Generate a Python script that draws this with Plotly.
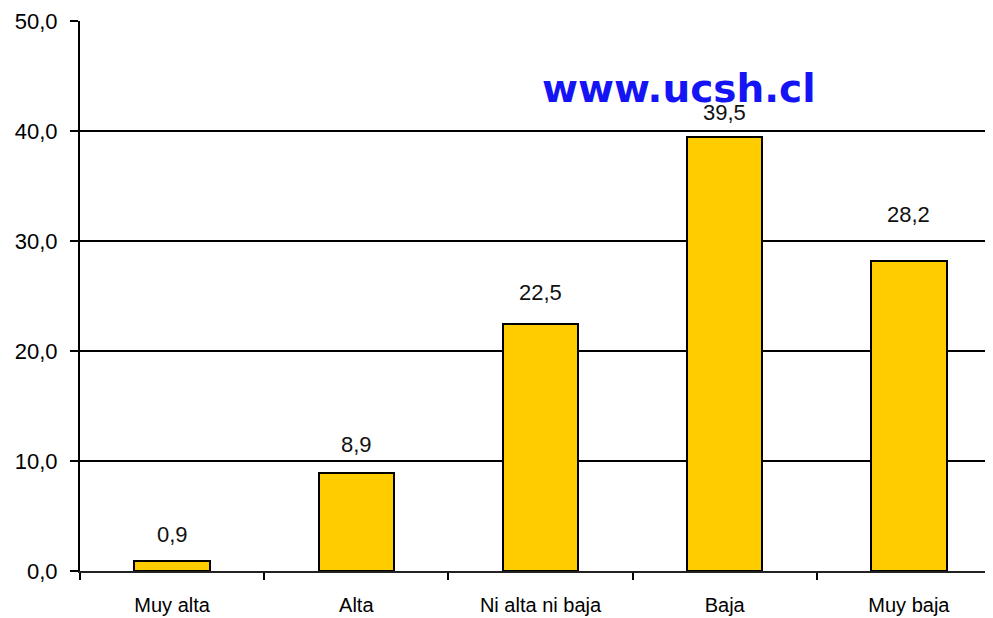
import plotly.graph_objects as go

categories = ["Muy alta", "Alta", "Ni alta ni baja", "Baja", "Muy baja"]
values = [0.9, 8.9, 22.5, 39.5, 28.2]
y_ticks = [0, 10, 20, 30, 40, 50]
watermark = "www.ucsh.cl"

# vertical pixel gap between bar top and its label (style only)
label_gap = [12, 14, 17, 10, 32]

fig = go.Figure()
fig.add_trace(go.Bar(
    x=categories, y=values, width=0.41,
    marker=dict(color="#FFCC00", line=dict(color="black", width=2)),
    hoverinfo="skip",
))

for c, v, g in zip(categories, values, label_gap):
    fig.add_annotation(
        x=c, y=v, xref="x", yref="y", text=f"{v:.1f}".replace(".", ","),
        showarrow=False, yanchor="bottom", xanchor="center", yshift=g,
        font=dict(family="Liberation Sans, Arial", size=22, color="#111"),
    )

fig.add_annotation(
    x=0.65, y=0.878, xref="paper", yref="paper", text=f"<b>{watermark}</b>",
    showarrow=False, xanchor="center", yanchor="middle",
    font=dict(family="DejaVu Sans", size=39, color="#1414F5"),
)

fig.update_layout(
    width=993, height=618,
    margin=dict(l=72, r=0, t=13, b=55),
    paper_bgcolor="white", plot_bgcolor="white",
    separators=",.",
    showlegend=False,
    bargap=0,
    font=dict(family="Liberation Sans, Arial", color="black"),
)
fig.update_xaxes(
    type="category", range=[-0.5, 4.5],
    showline=True, linecolor="#222", linewidth=2,
    ticks="outside", tickson="boundaries", ticklen=7, tickwidth=2, tickcolor="black",
    ticklabelstandoff=15,
    tickfont=dict(size=20, family="Liberation Sans, Arial", color="black"),
    showgrid=False,
)
fig.update_yaxes(
    range=[0, 50], tickvals=y_ticks, tickformat=".1f",
    showline=True, linecolor="black", linewidth=2,
    ticks="outside", ticklen=8, tickwidth=2, tickcolor="black",
    ticklabelstandoff=8,
    tickfont=dict(size=22, family="Liberation Sans, Arial", color="black"),
    showgrid=True, gridcolor="black", gridwidth=2,
    zeroline=False,
)

fig.write_html("out.html")
